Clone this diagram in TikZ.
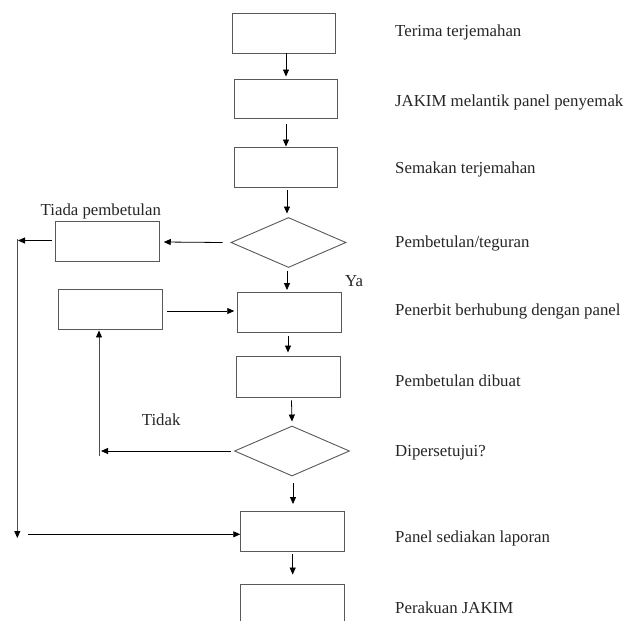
\documentclass[tikz,border=0pt]{standalone}
\usepackage{fontspec}
\setmainfont{Liberation Serif}
\usetikzlibrary{arrows.meta,shapes.geometric}
\begin{document}
\begin{tikzpicture}[x=1pt,y=-1pt,
  boxc/.style={draw=black!65,line width=0.9pt,rectangle,minimum width=104pt,minimum height=40pt,inner sep=0pt},
  decis/.style={draw=black!65,line width=0.9pt,diamond,minimum width=115pt,minimum height=50pt,inner sep=0pt},
  lbl/.style={font=\fontsize{16.8}{19}\selectfont,text=black!85,inner sep=0pt,anchor=base west},
  arr/.style={draw=black,line width=0.8pt,-{Triangle[length=7pt,width=6pt]}},
  ln/.style={draw=black!70,line width=0.8pt}]
\useasboundingbox (0,0) rectangle (624,621);
\clip (0,0) rectangle (624,621);
\fill[white] (0,0) rectangle (624,621);
% main column
\node[boxc,minimum width=103pt] (b1) at (283.5,33) {};
\node[boxc,minimum width=103pt,minimum height=39pt] (b2) at (285.5,98.5) {};
\node[boxc,minimum width=103pt] (b3) at (285.5,167) {};
\node[decis] (d1) at (288.5,242.5) {};
\node[boxc] (tiada) at (107.3,241) {};
\node[boxc] (b4) at (289,312.5) {};
\node[boxc] (lb) at (110,309) {};
\node[boxc,minimum height=41pt] (b5) at (288.5,376.5) {};
\node[decis] (d2) at (292,451) {};
\node[boxc] (b6) at (292.7,531) {};
\node[boxc] (b7) at (292.7,604) {};
% side coordinates
\coordinate (lt) at (18,240.5);
\coordinate (lb2) at (17.3,538);
\coordinate (pb) at (27.7,534.3);
\coordinate (mt) at (99,451);
\coordinate (mb) at (99,456);
% labels
\node[lbl] (t1) at (395,36.5) {Terima terjemahan};
\node[lbl] (t2) at (395,106) {JAKIM melantik panel penyemak};
\node[lbl] (t3) at (395,173) {Semakan terjemahan};
\node[lbl] (t4) at (395,247) {Pembetulan/teguran};
\node[lbl] (t5) at (395,315) {Penerbit berhubung dengan panel};
\node[lbl] (t6) at (395,386) {Pembetulan dibuat};
\node[lbl] (t7) at (395,456.5) {Dipersetujui?};
\node[lbl] (t8) at (395,542) {Panel sediakan laporan};
\node[lbl] (t9) at (395,613) {Perakuan JAKIM};
\node[lbl] (ty) at (345,286) {Ya};
\node[lbl] (tt) at (40.5,215.5) {Tiada pembetulan};
\node[lbl] (td) at (141.7,425.5) {Tidak};
% connectors
\draw[arr] ([xshift=2.5pt]b1.south) -- ([xshift=0.5pt,yshift=2pt]b2.north);
\draw[arr] ([xshift=0.5pt,yshift=-6pt]b2.south) -- ([xshift=0.5pt]b3.north);
\draw[arr] ([xshift=1.5pt,yshift=-3pt]b3.south) -- ([xshift=-1.5pt,yshift=3.5pt]d1.north);
\draw[arr] ([xshift=-1.5pt,yshift=-3pt]d1.south) -- ([xshift=-2pt,yshift=2pt]b4.north);
\draw[arr] ([xshift=-8pt]d1.west) -- ([xshift=4pt,yshift=-1pt]tiada.east);
\draw[arr] ([xshift=-3pt,yshift=0.5pt]tiada.west) -- (lt);
\draw[ln] ([yshift=1.5pt]lt -| lb2) -- ([yshift=7pt]lb2);
\draw[arr] ([yshift=7pt]lb2) -- (lb2);
\draw[arr] (pb) -- ([yshift=-3.3pt]b6.west);
\draw[arr] ([xshift=4.7pt,yshift=-2pt]lb.east) -- ([xshift=-2.3pt,yshift=1.5pt]b4.west);
\draw[arr] ([xshift=-1pt,yshift=-3pt]b4.south) -- ([xshift=-0.5pt,yshift=3pt]b5.north);
\draw[arr] ([xshift=3pt,yshift=-3pt]b5.south) -- ([yshift=4pt]d2.north);
\draw[arr] ([xshift=-3pt]d2.west) -- ([xshift=2pt]mt);
\draw[ln] (mb) -- ([yshift=-6pt]lb.south -| mb);
\draw[arr] ([yshift=-6pt]lb.south -| mb) -- ([yshift=-1pt]lb.south -| mb);
\draw[arr] ([xshift=1pt,yshift=-7pt]d2.south) -- ([xshift=0.3pt,yshift=6.5pt]b6.north);
\draw[arr] ([yshift=-2.5pt]b6.south) -- ([yshift=9pt]b7.north);
\end{tikzpicture}
\end{document}
